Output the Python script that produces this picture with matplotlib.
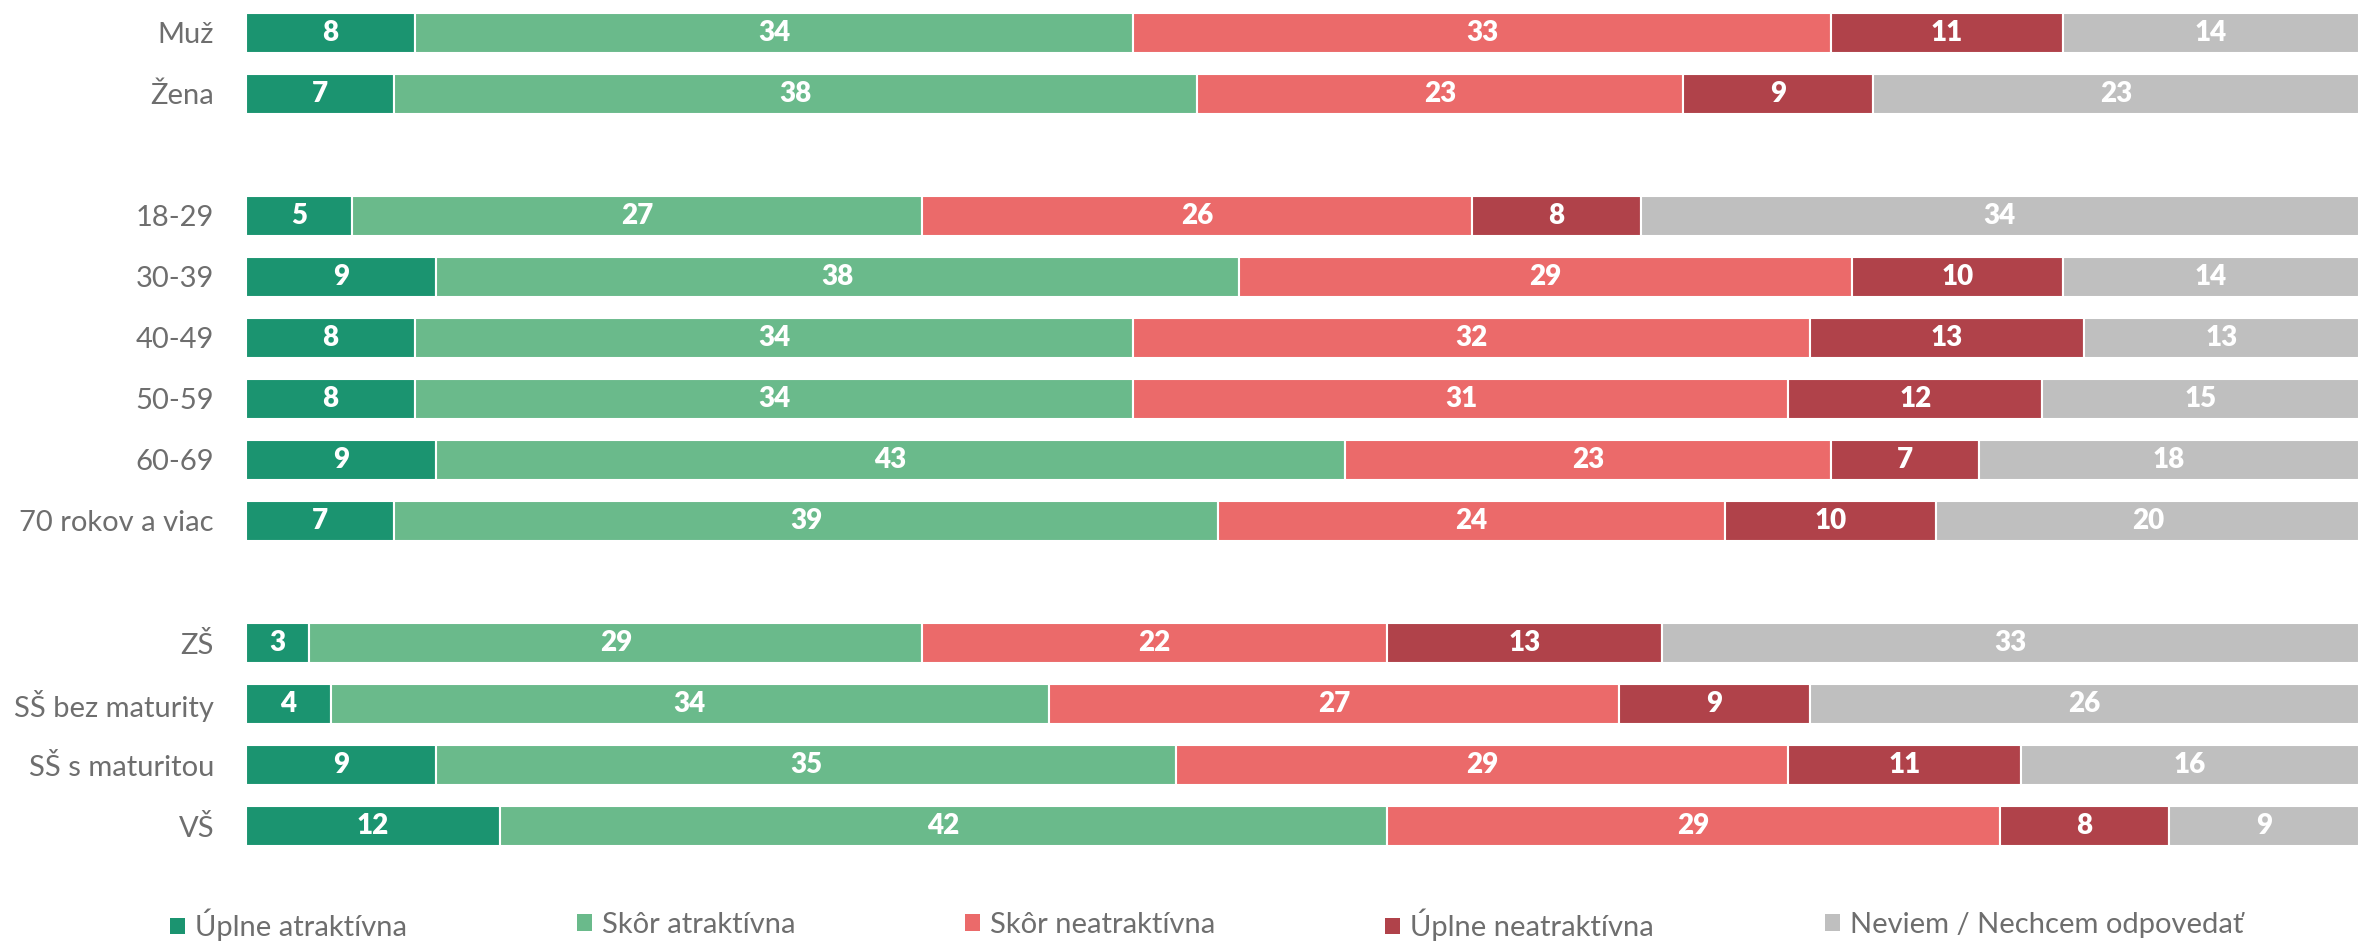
import matplotlib
matplotlib.use("Agg")
import matplotlib.pyplot as plt
from matplotlib.patches import Patch
import numpy as np

plt.rcParams['font.family'] = ['Lato', 'DejaVu Sans']

categories = ["Muž", "Žena", "18-29", "30-39", "40-49", "50-59", "60-69",
              "70 rokov a viac", "ZŠ", "SŠ bez maturity", "SŠ s maturitou", "VŠ"]
series_names = ["Úplne atraktívna", "Skôr atraktívna", "Skôr neatraktívna",
                "Úplne neatraktívna", "Neviem / Nechcem odpovedať"]
uplne_atr = [8, 7, 5, 9, 8, 8, 9, 7, 3, 4, 9, 12]
skor_atr = [34, 38, 27, 38, 34, 34, 43, 39, 29, 34, 35, 42]
skor_neatr = [33, 23, 26, 29, 32, 31, 23, 24, 22, 27, 29, 29]
uplne_neatr = [11, 9, 8, 10, 13, 12, 7, 10, 13, 9, 11, 8]
neviem = [14, 23, 34, 14, 13, 15, 18, 20, 33, 26, 16, 9]
# row slots (blank slots separate groups)
row_slots = [0, 1, 3, 4, 5, 6, 7, 8, 10, 11, 12, 13]

colors = ["#1b9470", "#6aba8b", "#eb6a6a", "#b0424a", "#bfbfbf"]
series = [uplne_atr, skor_atr, skor_neatr, uplne_neatr, neviem]

W, H = 2359, 943
fig = plt.figure(figsize=(W / 100, H / 100), dpi=100)
ax_left = 246 / W
ax_top = 1 - 2 / H
ax_bottom = 1 - 856 / H
ax = fig.add_axes([ax_left, ax_bottom, 1 - ax_left, ax_top - ax_bottom])

y = np.array(row_slots, dtype=float)
left = np.zeros(len(categories))
for vals, col in zip(series, colors):
    v = np.array(vals, dtype=float)
    ax.barh(y, v, left=left, height=40 / 61, color=col,
            edgecolor="white", linewidth=1.5)
    for yi, li, vi in zip(y, left, v):
        ax.text(li + vi / 2, yi, f"{int(vi)}", ha="center", va="center",
                color="white", fontsize=20, fontweight="heavy")
    left += v

ax.set_xlim(0, 100)
ax.set_ylim(13.5, -0.5)
ax.set_yticks(y)
ax.set_yticklabels(categories, fontsize=21, color="#6e6e6e")
ax.tick_params(axis="y", length=0, pad=23)
ax.set_xticks([])
for s in ax.spines.values():
    s.set_visible(False)

legend_x = [170, 577, 965, 1385, 1825]
for name, col, lx in zip(series_names, colors, legend_x):
    fig.legend(handles=[Patch(facecolor=col, edgecolor="none", label=name)],
               loc="center left", bbox_to_anchor=(lx / W, 1 - 925 / H),
               frameon=False, fontsize=21, labelcolor="#6e6e6e",
               handlelength=0.5, handleheight=0.5, handletextpad=0.35,
               borderpad=0, borderaxespad=0)

fig.savefig("out.png", dpi=100)
